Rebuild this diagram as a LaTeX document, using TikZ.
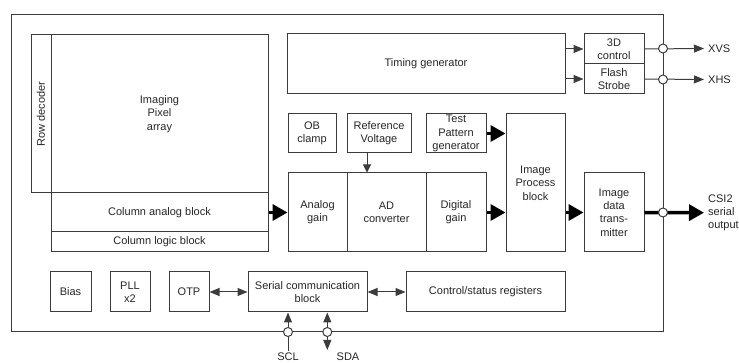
\documentclass[tikz,border=0pt]{standalone}
\usepackage{fontspec}
\setmainfont{Liberation Sans}
\usetikzlibrary{arrows.meta}
\definecolor{linegray}{HTML}{3C3C3C}
\definecolor{textgray}{HTML}{262626}
\tikzset{
  blk/.style={draw=linegray, line width=1pt, inner sep=1pt, align=center, text=textgray},
  lbl/.style={text=textgray, inner sep=2pt},
  sig/.style={draw=linegray, line width=1pt, -{Triangle[length=10pt,width=8pt]}},
  dbl/.style={draw=linegray, line width=1pt, {Triangle[length=10pt,width=8pt]}-{Triangle[length=10pt,width=8pt]}},
  bus/.style={draw=black, line width=3.5pt, -{Triangle[length=15pt,width=16pt]}},
  pin/.style={circle, draw=linegray, line width=1pt, fill=white, inner sep=0pt, minimum size=9pt}
}
\begin{document}
\begin{tikzpicture}[x=1pt,y=-1pt,font=\fontsize{11}{13.3}\selectfont]
\useasboundingbox (0,0) rectangle (739,363);
% chip outline
\node[blk, minimum width=652pt, minimum height=317pt] (chip) at (337,173.5) {};
% sensor array
\node[blk, minimum width=20pt, minimum height=158pt] (rowdec) at (41,114) {\rotatebox{90}{Row decoder}};
\node[blk, minimum width=217pt, minimum height=158pt] (pixarr) at (159.5,114) {Imaging\\Pixel\\array};
\node[blk, minimum width=217pt, minimum height=39pt] (colana) at (159.5,212.5) {Column analog block};
\node[blk, minimum width=217pt, minimum height=20pt] (collog) at (159.5,242) {Column logic block};
% timing
\node[blk, minimum width=278pt, minimum height=60pt] (tg) at (426,64) {Timing generator};
\node[blk, minimum width=60pt, minimum height=30pt] (tdc) at (614,49) {3D\\control};
\node[blk, minimum width=60pt, minimum height=30pt] (fls) at (614,79) {Flash\\Strobe};
% signal chain
\node[blk, minimum width=48pt, minimum height=39pt] (obc) at (312,133.5) {OB\\clamp};
\node[blk, minimum width=64pt, minimum height=39pt] (refv) at (379,133.5) {Reference\\Voltage};
\node[blk, minimum width=60pt, minimum height=39pt] (tpg) at (456,133.5) {Test\\Pattern\\generator};
\node[blk, minimum width=59pt, minimum height=79pt] (again) at (317.5,212.5) {Analog\\gain};
\node[blk, minimum width=79pt, minimum height=79pt] (adc) at (386.5,212.5) {AD\\converter};
\node[blk, minimum width=60pt, minimum height=79pt] (dgain) at (456,212.5) {Digital\\gain};
\node[blk, minimum width=59pt, minimum height=138pt] (ipb) at (535.5,183) {Image\\Process\\block};
\node[blk, minimum width=60pt, minimum height=79pt] (idt) at (614,212.5) {Image\\data\\trans-\\mitter};
% bottom row
\node[blk, minimum width=41pt, minimum height=40pt] (bias) at (70.5,292) {Bias};
\node[blk, minimum width=40pt, minimum height=40pt] (pll) at (130,292) {PLL\\x2};
\node[blk, minimum width=40pt, minimum height=40pt] (otp) at (189,292) {OTP};
\node[blk, minimum width=119pt, minimum height=40pt] (scb) at (307.5,292) {Serial communication\\block};
\node[blk, minimum width=159pt, minimum height=40pt] (csr) at (485.5,292) {Control/status registers};
% outside labels
\node[lbl, anchor=west, inner sep=4pt] (xvs) at (704,48.5) {XVS};
\node[lbl, anchor=west, inner sep=4pt] (xhs) at (704,79.5) {XHS};
\node[lbl, anchor=west, inner sep=4pt, align=left] (csi) at (704,212.7) {CSI2\\serial\\output};
\node[lbl] (scl) at (288,357) {SCL};
\node[lbl] (sda) at (348,357) {SDA};
\coordinate (vspin) at (663,48.5);
\coordinate (hspin) at (663,79.5);
\coordinate (csipin) at (663,212.5);
\coordinate (sclpin) at (288,332);
\coordinate (sdapin) at (327.3,332);
\coordinate (sdaend) at (327.3,350);
% connections
\draw[sig] (tg.east |- tdc.west) -- (tdc.west);
\draw[sig] (tg.east |- fls.west) -- (fls.west);
\draw[sig] (tdc.east) -- (xvs.west);
\draw[sig] (fls.east) -- (xhs.west);
\draw[sig, -{Triangle[length=8pt,width=8pt]}] ([xshift=-12pt]refv.south) -- ([xshift=-12pt]refv.south |- adc.north);
\draw[bus] (colana.east) -- (again.west);
\draw[bus] (tpg.east) -- (tpg.east -| ipb.west);
\draw[bus] (dgain.east) -- (dgain.east -| ipb.west);
\draw[bus] (idt.west -| ipb.east) -- (idt.west);
\draw[bus] (idt.east) -- (csi.west);
\draw[dbl] (otp.east) -- (scb.west);
\draw[dbl] (scb.east) -- (csr.west);
\draw[sig] (scl.north) -- (scl.north -| sclpin) -- (sclpin |- scb.south);
\draw[dbl] (sdaend) -- (sdaend |- scb.south);
% pins on the chip edge
\foreach \p in {vspin,hspin,csipin,sclpin,sdapin}
  \node[pin] at (\p) {};
\end{tikzpicture}
\end{document}
